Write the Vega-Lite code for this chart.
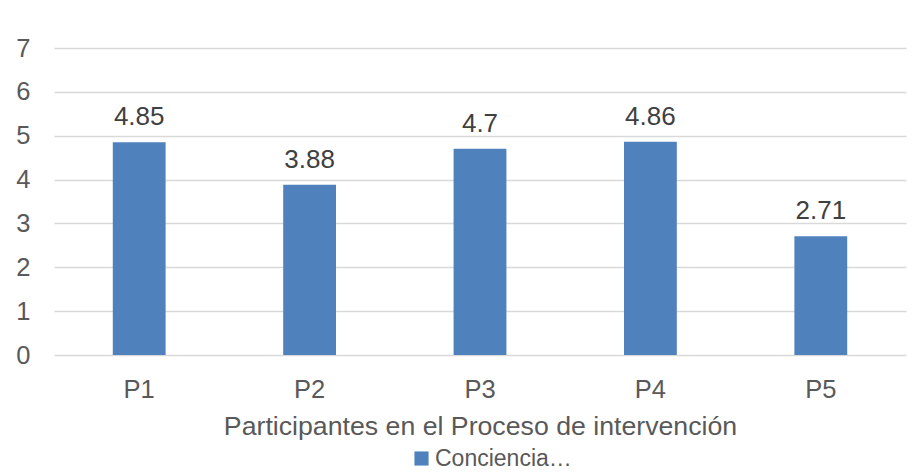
{
  "$schema": "https://vega.github.io/schema/vega-lite/v6.json",
  "width": 852,
  "height": 307,
  "autosize": "none",
  "padding": {"left": 54, "top": 48, "right": 18, "bottom": 117},
  "background": "white",
  "config": {
    "view": {"stroke": null},
    "font": "Liberation Sans"
  },
  "data": {
    "values": [
      {"participante": "P1", "valor": 4.85, "serie": "Conciencia…"},
      {"participante": "P2", "valor": 3.88, "serie": "Conciencia…"},
      {"participante": "P3", "valor": 4.7, "serie": "Conciencia…"},
      {"participante": "P4", "valor": 4.86, "serie": "Conciencia…"},
      {"participante": "P5", "valor": 2.71, "serie": "Conciencia…"}
    ]
  },
  "encoding": {
    "x": {
      "field": "participante",
      "type": "nominal",
      "sort": null,
      "scale": {"paddingInner": 0.69, "paddingOuter": 0.345},
      "axis": {
        "title": "Participantes en el Proceso de intervención",
        "titleFont": "Liberation Sans",
        "titleFontSize": 26.7,
        "titleFontWeight": "normal",
        "titleColor": "#595959",
        "titleBaseline": "alphabetic",
        "titleY": 79,
        "labelAngle": 0,
        "labelFontSize": 25.5,
        "labelColor": "#595959",
        "labelBaseline": "alphabetic",
        "labelPadding": 42,
        "ticks": false,
        "tickSize": 0,
        "domain": false
      }
    },
    "y": {
      "field": "valor",
      "type": "quantitative",
      "scale": {"domain": [0, 7], "nice": false},
      "axis": {
        "title": null,
        "values": [0, 1, 2, 3, 4, 5, 6, 7],
        "labelFontSize": 25.5,
        "labelColor": "#595959",
        "labelPadding": 24,
        "ticks": false,
        "tickSize": 0,
        "domain": false,
        "gridColor": "#d9d9d9",
        "gridWidth": 1.5
      }
    }
  },
  "layer": [
    {
      "mark": {"type": "bar"},
      "encoding": {
        "color": {
          "field": "serie",
          "type": "nominal",
          "scale": {"range": ["#4f81bd"]},
          "legend": {
            "title": null,
            "orient": "none",
            "legendX": 356,
            "legendY": 399,
            "symbolType": "square",
            "symbolSize": 200,
            "symbolStrokeWidth": 0,
            "symbolOpacity": 1,
            "labelFontSize": 23,
            "labelColor": "#595959",
            "labelOffset": 2
          }
        }
      }
    },
    {
      "mark": {"type": "text", "dy": -17, "baseline": "alphabetic", "fontSize": 26, "color": "#404040"},
      "encoding": {
        "text": {"field": "valor", "type": "quantitative", "format": ".3~r"}
      }
    }
  ]
}
